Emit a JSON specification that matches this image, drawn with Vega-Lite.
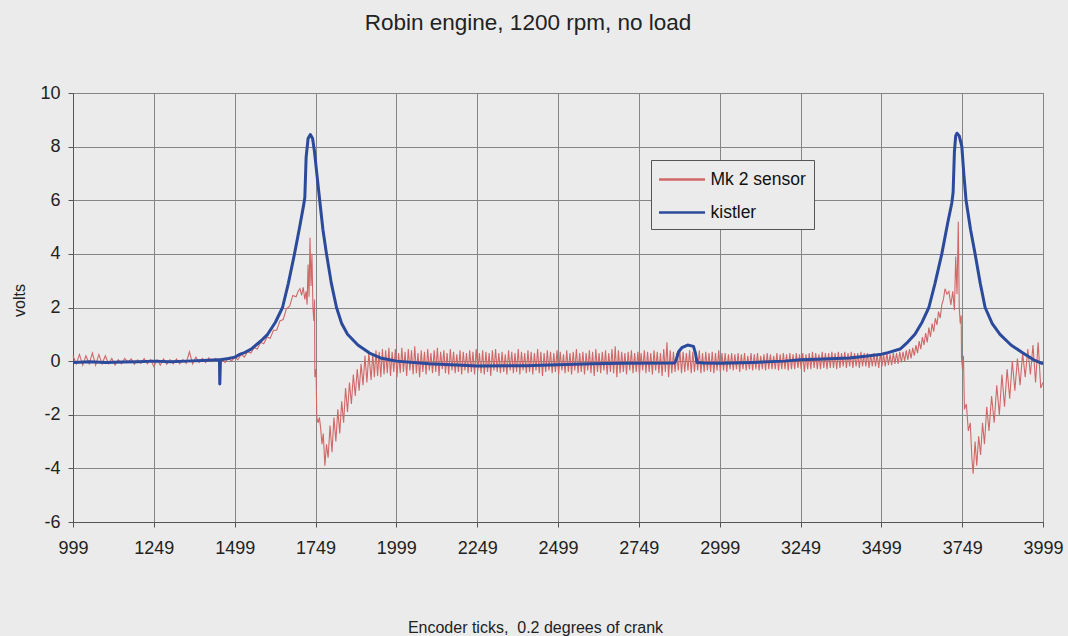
{
  "$schema": "https://vega.github.io/schema/vega-lite/v6.json",
  "width": 970,
  "height": 429,
  "autosize": {"type": "none"},
  "padding": {"left": 73, "top": 93, "right": 25, "bottom": 114},
  "background": "#ebebeb",
  "title": {
    "text": "Robin engine, 1200 rpm, no load",
    "font": "Liberation Sans",
    "fontSize": 22.5,
    "fontWeight": "normal",
    "color": "#222222",
    "anchor": "middle",
    "frame": "group",
    "dx": -30,
    "baseline": "alphabetic",
    "offset": 32
  },
  "datasets": {
    "mk2": [
      {"t":999,"v":0.2},{"t":1009,"v":-0.1},{"t":1019,"v":0.25},{"t":1029,"v":-0.15},{"t":1039,"v":0.2},{"t":1049,"v":-0.1},{"t":1059,"v":0.3},{"t":1069,"v":-0.15},{"t":1079,"v":0.25},{"t":1089,"v":-0.1},{"t":1099,"v":0.2},
      {"t":1109,"v":-0.1},{"t":1119,"v":0.1},{"t":1129,"v":-0.15},{"t":1139,"v":0.05},{"t":1149,"v":-0.1},{"t":1159,"v":0.1},{"t":1169,"v":-0.05},{"t":1179,"v":0.08},{"t":1189,"v":-0.12},{"t":1199,"v":0.05},{"t":1209,"v":-0.08},{"t":1219,"v":0.1},{"t":1229,"v":-0.1},{"t":1239,"v":0.06},{"t":1249,"v":-0.2},{"t":1259,"v":0.05},{"t":1269,"v":-0.15},{"t":1279,"v":0.08},{"t":1289,"v":-0.12},{"t":1299,"v":0.05},{"t":1309,"v":-0.1},{"t":1319,"v":0.08},{"t":1329,"v":-0.1},{"t":1339,"v":0.06},{"t":1349,"v":-0.08},{"t":1359,"v":0.35},{"t":1369,"v":-0.1},{"t":1379,"v":0.15},{"t":1389,"v":-0.05},{"t":1399,"v":0.1},{"t":1409,"v":-0.05},{"t":1419,"v":0.12},{"t":1429,"v":-0.02},{"t":1439,"v":0.1},{"t":1449,"v":0.0},
      {"t":1459,"v":0.1},{"t":1469,"v":-0.05},{"t":1479,"v":0.12},{"t":1489,"v":0.0},{"t":1499,"v":0.15},{"t":1509,"v":0.05},{"t":1519,"v":0.25},{"t":1529,"v":0.15},{"t":1539,"v":0.35},{"t":1549,"v":0.3},{"t":1559,"v":0.5},{"t":1569,"v":0.45},{"t":1579,"v":0.7},{"t":1589,"v":0.65},{"t":1599,"v":0.9},{"t":1609,"v":0.85},{"t":1619,"v":1.15},{"t":1629,"v":1.15},{"t":1639,"v":1.5},{"t":1649,"v":1.55},{"t":1659,"v":1.95},{"t":1669,"v":2.05},{"t":1679,"v":2.45},{"t":1689,"v":2.4},{"t":1695,"v":2.6},{"t":1701,"v":2.7},{"t":1706,"v":2.45},{"t":1711,"v":2.75},{"t":1716,"v":2.3},{"t":1720,"v":2.6},{"t":1723,"v":2.1},{"t":1726,"v":3.6},{"t":1729,"v":2.4},{"t":1732,"v":4.6},{"t":1735,"v":2.8},{"t":1738,"v":4.0},{"t":1741,"v":2.0},{"t":1744,"v":1.5},{"t":1746,"v":2.3},{"t":1747,"v":-0.6},{"t":1749,"v":-0.3},{"t":1751,"v":-0.5},{"t":1753,"v":-2.1},{"t":1757,"v":-2.3},{"t":1761,"v":-2.1},{"t":1765,"v":-2.5},{"t":1769,"v":-3.1},{"t":1773,"v":-2.7},{"t":1778,"v":-3.9},{"t":1783,"v":-3.1},{"t":1788,"v":-3.6},{"t":1794,"v":-2.4},{"t":1800,"v":-3.4},{"t":1806,"v":-2.1},{"t":1812,"v":-3.0},{"t":1818,"v":-1.8},{"t":1824,"v":-2.7},{"t":1830,"v":-1.5},{"t":1836,"v":-2.3},{"t":1842,"v":-1.0},{"t":1848,"v":-1.9},{"t":1854,"v":-0.8},{"t":1860,"v":-1.6},{"t":1866,"v":-0.5},{"t":1872,"v":-1.3},{"t":1878,"v":-0.3},{"t":1884,"v":-1.1},{"t":1890,"v":-0.1},{"t":1896,"v":-0.9},{"t":1902,"v":0.2},{"t":1908,"v":-0.8},{"t":1914,"v":0.3},
      {"t":1921,"v":-0.7},{"t":1926,"v":0.3},{"t":1931,"v":-0.6},{"t":1936,"v":0.4},{"t":1941,"v":-0.55},{"t":1946,"v":0.35},{"t":1951,"v":-0.6},{"t":1956,"v":0.45},{"t":1961,"v":-0.5},{"t":1966,"v":0.4},
      {"t":1971,"v":-0.45},{"t":1976,"v":0.5},{"t":1981,"v":-0.55},{"t":1986,"v":0.35},{"t":1991,"v":-0.4},{"t":1996,"v":0.45},{"t":2001,"v":-0.6},{"t":2006,"v":0.3},{"t":2011,"v":-0.45},{"t":2016,"v":0.5},
      {"t":2021,"v":-0.4},{"t":2026,"v":0.35},{"t":2031,"v":-0.55},{"t":2036,"v":0.45},{"t":2041,"v":-0.35},{"t":2046,"v":0.4},{"t":2051,"v":-0.5},{"t":2056,"v":0.55},{"t":2061,"v":-0.45},{"t":2066,"v":0.3},
      {"t":2071,"v":-0.6},{"t":2076,"v":0.4},{"t":2081,"v":-0.4},{"t":2086,"v":0.35},{"t":2091,"v":-0.5},{"t":2096,"v":0.45},{"t":2101,"v":-0.35},{"t":2106,"v":0.3},{"t":2111,"v":-0.45},{"t":2116,"v":0.4},
      {"t":2121,"v":-0.4},{"t":2126,"v":0.5},{"t":2131,"v":-0.55},{"t":2136,"v":0.35},{"t":2141,"v":-0.3},{"t":2146,"v":0.4},{"t":2151,"v":-0.45},{"t":2156,"v":0.3},{"t":2161,"v":-0.5},{"t":2166,"v":0.45},
      {"t":2171,"v":-0.35},{"t":2176,"v":0.35},{"t":2181,"v":-0.45},{"t":2186,"v":0.25},{"t":2191,"v":-0.4},{"t":2196,"v":0.4},{"t":2201,"v":-0.5},{"t":2206,"v":0.35},{"t":2211,"v":-0.35},{"t":2216,"v":0.3},
      {"t":2221,"v":-0.45},{"t":2226,"v":0.4},{"t":2231,"v":-0.4},{"t":2236,"v":0.35},{"t":2241,"v":-0.5},{"t":2246,"v":0.45},{"t":2251,"v":-0.35},{"t":2256,"v":0.3},{"t":2261,"v":-0.45},{"t":2266,"v":0.4},
      {"t":2271,"v":-0.5},{"t":2276,"v":0.35},{"t":2281,"v":-0.4},{"t":2286,"v":0.3},{"t":2291,"v":-0.55},{"t":2296,"v":0.4},{"t":2301,"v":-0.35},{"t":2306,"v":0.45},{"t":2311,"v":-0.4},{"t":2316,"v":0.3},
      {"t":2321,"v":-0.45},{"t":2326,"v":0.35},{"t":2331,"v":-0.4},{"t":2336,"v":0.25},{"t":2341,"v":-0.5},{"t":2346,"v":0.4},{"t":2351,"v":-0.35},{"t":2356,"v":0.35},{"t":2361,"v":-0.45},{"t":2366,"v":0.3},
      {"t":2371,"v":-0.4},{"t":2376,"v":0.45},{"t":2381,"v":-0.5},{"t":2386,"v":0.35},{"t":2391,"v":-0.35},{"t":2396,"v":0.3},{"t":2401,"v":-0.45},{"t":2406,"v":0.4},{"t":2411,"v":-0.4},{"t":2416,"v":0.35},
      {"t":2421,"v":-0.5},{"t":2426,"v":0.3},{"t":2431,"v":-0.35},{"t":2436,"v":0.45},{"t":2441,"v":-0.45},{"t":2446,"v":0.35},{"t":2451,"v":-0.55},{"t":2456,"v":0.3},{"t":2461,"v":-0.4},{"t":2466,"v":0.4},
      {"t":2471,"v":-0.35},{"t":2476,"v":0.35},{"t":2481,"v":-0.45},{"t":2486,"v":0.3},{"t":2491,"v":-0.4},{"t":2496,"v":0.4},{"t":2501,"v":-0.5},{"t":2506,"v":0.35},{"t":2511,"v":-0.35},{"t":2516,"v":0.25},
      {"t":2521,"v":-0.45},{"t":2526,"v":0.4},{"t":2531,"v":-0.4},{"t":2536,"v":0.3},{"t":2541,"v":-0.5},{"t":2546,"v":0.35},{"t":2551,"v":-0.35},{"t":2556,"v":0.45},{"t":2561,"v":-0.45},{"t":2566,"v":0.3},
      {"t":2571,"v":-0.4},{"t":2576,"v":0.35},{"t":2581,"v":-0.5},{"t":2586,"v":0.3},{"t":2591,"v":-0.35},{"t":2596,"v":0.4},{"t":2601,"v":-0.45},{"t":2606,"v":0.35},{"t":2611,"v":-0.55},{"t":2616,"v":0.45},
      {"t":2621,"v":-0.4},{"t":2626,"v":0.3},{"t":2631,"v":-0.45},{"t":2636,"v":0.35},{"t":2641,"v":-0.35},{"t":2646,"v":0.4},{"t":2651,"v":-0.5},{"t":2656,"v":0.3},{"t":2661,"v":-0.4},{"t":2666,"v":0.45},
      {"t":2671,"v":-0.45},{"t":2676,"v":0.55},{"t":2681,"v":-0.6},{"t":2686,"v":0.4},{"t":2691,"v":-0.45},{"t":2696,"v":0.35},{"t":2701,"v":-0.4},{"t":2706,"v":0.3},{"t":2711,"v":-0.5},{"t":2716,"v":0.35},
      {"t":2721,"v":-0.35},{"t":2726,"v":0.4},{"t":2731,"v":-0.45},{"t":2736,"v":0.3},{"t":2741,"v":-0.4},{"t":2746,"v":0.35},{"t":2751,"v":-0.5},{"t":2756,"v":0.3},{"t":2761,"v":-0.35},{"t":2766,"v":0.4},
      {"t":2771,"v":-0.45},{"t":2776,"v":0.35},{"t":2781,"v":-0.4},{"t":2786,"v":0.3},{"t":2791,"v":-0.5},{"t":2796,"v":0.4},{"t":2801,"v":-0.35},{"t":2806,"v":0.35},{"t":2811,"v":-0.45},{"t":2816,"v":0.3},
      {"t":2821,"v":-0.55},{"t":2826,"v":0.45},{"t":2831,"v":-0.4},{"t":2836,"v":0.7},{"t":2841,"v":-0.6},{"t":2846,"v":0.4},{"t":2851,"v":-0.45},{"t":2856,"v":0.35},{"t":2861,"v":-0.4},{"t":2866,"v":0.3},
      {"t":2871,"v":-0.35},{"t":2876,"v":0.4},{"t":2881,"v":-0.45},{"t":2886,"v":0.35},{"t":2891,"v":-0.4},{"t":2896,"v":0.3},{"t":2901,"v":-0.35},{"t":2906,"v":0.4},{"t":2911,"v":-0.45},{"t":2916,"v":0.35},
      {"t":2921,"v":-0.4},{"t":2926,"v":0.3},{"t":2931,"v":-0.35},{"t":2936,"v":0.4},{"t":2941,"v":-0.45},{"t":2946,"v":0.3},{"t":2951,"v":-0.4},{"t":2956,"v":0.35},{"t":2961,"v":-0.35},{"t":2966,"v":0.3},
      {"t":2971,"v":-0.4},{"t":2976,"v":0.35},{"t":2981,"v":-0.45},{"t":2986,"v":0.3},{"t":2991,"v":-0.35},{"t":2996,"v":0.4},{"t":3001,"v":-0.4},{"t":3006,"v":0.3},{"t":3011,"v":-0.35},{"t":3016,"v":0.3},
      {"t":3021,"v":-0.4},{"t":3026,"v":0.25},{"t":3031,"v":-0.3},{"t":3036,"v":0.3},{"t":3041,"v":-0.35},{"t":3046,"v":0.25},{"t":3051,"v":-0.3},{"t":3056,"v":0.3},{"t":3061,"v":-0.4},{"t":3066,"v":0.25},
      {"t":3071,"v":-0.3},{"t":3076,"v":0.3},{"t":3081,"v":-0.35},{"t":3086,"v":0.2},{"t":3091,"v":-0.3},{"t":3096,"v":0.3},{"t":3101,"v":-0.35},{"t":3106,"v":0.25},{"t":3111,"v":-0.3},{"t":3116,"v":0.3},
      {"t":3121,"v":-0.35},{"t":3126,"v":0.2},{"t":3131,"v":-0.3},{"t":3136,"v":0.25},{"t":3141,"v":-0.35},{"t":3146,"v":0.3},{"t":3151,"v":-0.3},{"t":3156,"v":0.25},{"t":3161,"v":-0.3},{"t":3166,"v":0.2},
      {"t":3171,"v":-0.3},{"t":3176,"v":0.3},{"t":3181,"v":-0.35},{"t":3186,"v":0.25},{"t":3191,"v":-0.3},{"t":3196,"v":0.3},{"t":3201,"v":-0.3},{"t":3206,"v":0.25},{"t":3211,"v":-0.35},{"t":3216,"v":0.3},
      {"t":3221,"v":-0.3},{"t":3226,"v":0.25},{"t":3231,"v":-0.3},{"t":3236,"v":0.3},{"t":3241,"v":-0.25},{"t":3246,"v":0.25},{"t":3251,"v":-0.3},{"t":3256,"v":0.3},{"t":3261,"v":-0.4},{"t":3266,"v":0.25},
      {"t":3271,"v":-0.3},{"t":3276,"v":0.3},{"t":3281,"v":-0.3},{"t":3286,"v":0.35},{"t":3291,"v":-0.25},{"t":3296,"v":0.3},{"t":3301,"v":-0.3},{"t":3306,"v":0.25},{"t":3311,"v":-0.3},{"t":3316,"v":0.35},
      {"t":3321,"v":-0.25},{"t":3326,"v":0.3},{"t":3331,"v":-0.3},{"t":3336,"v":0.3},{"t":3341,"v":-0.25},{"t":3346,"v":0.35},{"t":3351,"v":-0.25},{"t":3356,"v":0.3},{"t":3361,"v":-0.3},{"t":3366,"v":0.35},
      {"t":3371,"v":-0.25},{"t":3376,"v":0.3},{"t":3381,"v":-0.2},{"t":3386,"v":0.35},{"t":3391,"v":-0.25},{"t":3396,"v":0.3},{"t":3401,"v":-0.2},{"t":3406,"v":0.35},{"t":3411,"v":-0.25},{"t":3416,"v":0.3},
      {"t":3421,"v":-0.2},{"t":3426,"v":0.3},{"t":3431,"v":-0.25},{"t":3436,"v":0.35},{"t":3441,"v":-0.2},{"t":3446,"v":0.3},{"t":3451,"v":-0.2},{"t":3456,"v":0.3},{"t":3461,"v":-0.25},{"t":3466,"v":0.25},
      {"t":3471,"v":-0.2},{"t":3476,"v":0.3},{"t":3481,"v":-0.2},{"t":3486,"v":0.25},{"t":3491,"v":-0.25},{"t":3496,"v":0.3},{"t":3501,"v":-0.2},{"t":3506,"v":0.25},{"t":3511,"v":-0.2},{"t":3516,"v":0.3},
      {"t":3521,"v":-0.15},{"t":3526,"v":0.25},{"t":3531,"v":-0.15},{"t":3536,"v":0.3},{"t":3541,"v":-0.1},{"t":3546,"v":0.3},{"t":3551,"v":-0.1},{"t":3556,"v":0.35},{"t":3561,"v":-0.05},{"t":3566,"v":0.35},
      {"t":3571,"v":0.0},{"t":3576,"v":0.4},{"t":3581,"v":0.05},{"t":3586,"v":0.45},{"t":3591,"v":0.1},{"t":3596,"v":0.5},{"t":3601,"v":0.2},{"t":3606,"v":0.6},{"t":3611,"v":0.3},{"t":3616,"v":0.75},
      {"t":3621,"v":0.45},{"t":3626,"v":0.9},{"t":3631,"v":0.6},{"t":3636,"v":1.05},{"t":3641,"v":0.7},{"t":3646,"v":1.25},{"t":3651,"v":0.9},{"t":3656,"v":1.4},{"t":3661,"v":1.1},{"t":3666,"v":1.6},
      {"t":3671,"v":1.35},{"t":3676,"v":1.85},{"t":3681,"v":1.6},{"t":3686,"v":2.1},{"t":3691,"v":2.3},
      {"t":3696,"v":2.7},{"t":3702,"v":2.5},{"t":3708,"v":2.6},{"t":3714,"v":2.1},{"t":3720,"v":2.6},{"t":3725,"v":1.9},{"t":3729,"v":3.9},{"t":3733,"v":2.5},{"t":3737,"v":5.2},{"t":3740,"v":2.0},{"t":3743,"v":1.4},{"t":3746,"v":1.7},{"t":3747,"v":0.1},{"t":3750,"v":-0.3},{"t":3753,"v":0.2},{"t":3756,"v":-1.8},{"t":3762,"v":-1.6},{"t":3768,"v":-2.6},{"t":3774,"v":-2.3},{"t":3779,"v":-3.6},{"t":3783,"v":-4.2},{"t":3789,"v":-3.0},{"t":3794,"v":-3.9},{"t":3800,"v":-2.8},{"t":3806,"v":-3.5},{"t":3812,"v":-2.3},{"t":3818,"v":-3.1},{"t":3825,"v":-1.7},{"t":3832,"v":-2.6},{"t":3840,"v":-1.3},{"t":3848,"v":-2.3},{"t":3856,"v":-0.9},{"t":3864,"v":-2.0},{"t":3872,"v":-0.5},{"t":3880,"v":-1.7},{"t":3888,"v":-0.3},{"t":3896,"v":-1.4},{"t":3904,"v":0.0},{"t":3912,"v":-1.1},{"t":3920,"v":0.1},{"t":3928,"v":-0.9},{"t":3936,"v":0.3},{"t":3944,"v":-0.6},{"t":3952,"v":0.45},{"t":3960,"v":-0.5},{"t":3968,"v":0.6},{"t":3976,"v":-0.8},{"t":3984,"v":0.7},{"t":3992,"v":-1.0},{"t":3999,"v":-0.8}
    ],
    "kistler": [
      {"t":999,"v":-0.05},{"t":1050,"v":-0.02},{"t":1100,"v":-0.05},{"t":1150,"v":-0.03},{"t":1200,"v":-0.02},{"t":1250,"v":0.0},{"t":1300,"v":-0.02},{"t":1350,"v":0.0},{"t":1400,"v":0.02},{"t":1450,"v":0.05},{"t":1452,"v":0.05},{"t":1453,"v":-0.85},{"t":1455,"v":0.05},{"t":1480,"v":0.1},{"t":1500,"v":0.15},{"t":1514,"v":0.25},{"t":1530,"v":0.32},{"t":1550,"v":0.45},{"t":1567,"v":0.62},{"t":1580,"v":0.75},{"t":1601,"v":1.0},{"t":1617,"v":1.3},{"t":1625,"v":1.45},{"t":1647,"v":2.0},{"t":1665,"v":2.9},{"t":1684,"v":4.0},{"t":1700,"v":5.0},{"t":1712,"v":5.8},{"t":1716,"v":6.1},{"t":1720,"v":7.6},{"t":1726,"v":8.3},{"t":1733,"v":8.45},{"t":1740,"v":8.3},{"t":1746,"v":7.8},{"t":1753,"v":7.0},{"t":1762,"v":6.0},{"t":1772,"v":4.9},{"t":1783,"v":4.0},{"t":1798,"v":2.9},{"t":1814,"v":2.0},{"t":1830,"v":1.4},{"t":1848,"v":1.0},{"t":1880,"v":0.6},{"t":1916,"v":0.3},{"t":1950,"v":0.12},{"t":2000,"v":0.0},{"t":2100,"v":-0.1},{"t":2250,"v":-0.18},{"t":2400,"v":-0.17},{"t":2600,"v":-0.1},{"t":2700,"v":-0.08},{"t":2860,"v":-0.07},{"t":2866,"v":0.1},{"t":2872,"v":0.35},{"t":2882,"v":0.5},{"t":2900,"v":0.6},{"t":2918,"v":0.55},{"t":2924,"v":0.3},{"t":2929,"v":-0.05},{"t":2950,"v":-0.07},{"t":3000,"v":-0.08},{"t":3100,"v":-0.05},{"t":3200,"v":0.0},{"t":3250,"v":0.05},{"t":3300,"v":0.07},{"t":3400,"v":0.12},{"t":3450,"v":0.18},{"t":3500,"v":0.26},{"t":3515,"v":0.3},{"t":3557,"v":0.45},{"t":3580,"v":0.7},{"t":3603,"v":1.0},{"t":3625,"v":1.45},{"t":3646,"v":2.0},{"t":3665,"v":2.9},{"t":3686,"v":4.0},{"t":3705,"v":5.2},{"t":3717,"v":5.9},{"t":3721,"v":6.3},{"t":3725,"v":7.8},{"t":3729,"v":8.4},{"t":3733,"v":8.5},{"t":3740,"v":8.4},{"t":3748,"v":8.0},{"t":3754,"v":7.0},{"t":3761,"v":6.0},{"t":3775,"v":4.9},{"t":3789,"v":4.0},{"t":3805,"v":2.9},{"t":3820,"v":2.0},{"t":3842,"v":1.4},{"t":3866,"v":1.0},{"t":3900,"v":0.6},{"t":3937,"v":0.3},{"t":3970,"v":0.05},{"t":3999,"v":-0.1}
    ]
  },
  "layer": [
    {
      "data": {"name": "mk2"},
      "mark": {"type": "line", "strokeWidth": 1.1, "interpolate": "linear"},
      "encoding": {
        "x": {
          "field": "t", "type": "quantitative",
          "scale": {"domain": [999, 3999], "nice": false, "zero": false},
          "axis": {
            "values": [999, 1249, 1499, 1749, 1999, 2249, 2499, 2749, 2999, 3249, 3499, 3749, 3999],
            "format": "d",
            "title": "Encoder ticks,\u00a0 0.2 degrees of crank",
            "titleX": 462, "titleY": 110, "titleBaseline": "alphabetic", "titleAlign": "center",
            "titleFontSize": 16,
            "labelPadding": 12, "labelFlush": false, "labelOverlap": false
          }
        },
        "y": {
          "field": "v", "type": "quantitative",
          "scale": {"domain": [-6, 10], "nice": false, "zero": false},
          "axis": {
            "values": [-6, -4, -2, 0, 2, 4, 6, 8, 10],
            "labelExpr": "toString(datum.value)",
            "title": "volts",
            "titleX": -49, "titleY": 207, "titleBaseline": "alphabetic", "titleAlign": "center", "titleAngle": 270,
            "titleFontSize": 16,
            "labelPadding": 8
          }
        },
        "color": {
          "datum": "Mk 2 sensor",
          "scale": {"domain": ["Mk 2 sensor", "kistler"], "range": ["#d06868", "#2b4a9b"]},
          "legend": {
            "orient": "none", "legendX": 578, "legendY": 67, "title": null,
            "fillColor": "#ebebeb", "strokeColor": "#555555", "padding": 8,
            "labelFont": "Liberation Sans", "labelFontSize": 17.5, "labelColor": "#111111",
            "symbolType": "M-2.3,0H2.3", "symbolSize": 400, "symbolStrokeWidth": 2.5,
            "symbolOffset": 11.5, "labelOffset": 17, "rowPadding": 13
          }
        }
      }
    },
    {
      "data": {"name": "kistler"},
      "mark": {"type": "line", "strokeWidth": 3, "strokeJoin": "round"},
      "encoding": {
        "x": {"field": "t", "type": "quantitative"},
        "y": {"field": "v", "type": "quantitative"},
        "color": {"datum": "kistler"}
      }
    }
  ],
  "config": {
    "view": {"stroke": "#666666", "strokeWidth": 1, "fill": "#ebebeb"},
    "axis": {
      "gridColor": "#858585", "gridOpacity": 1, "gridWidth": 1,
      "domainColor": "#555555", "tickColor": "#555555", "tickSize": 5,
      "labelColor": "#222222", "labelFont": "Liberation Sans", "labelFontSize": 18,
      "titleFont": "Liberation Sans", "titleFontSize": 15, "titleFontWeight": "normal", "titleColor": "#222222"
    }
  }
}
